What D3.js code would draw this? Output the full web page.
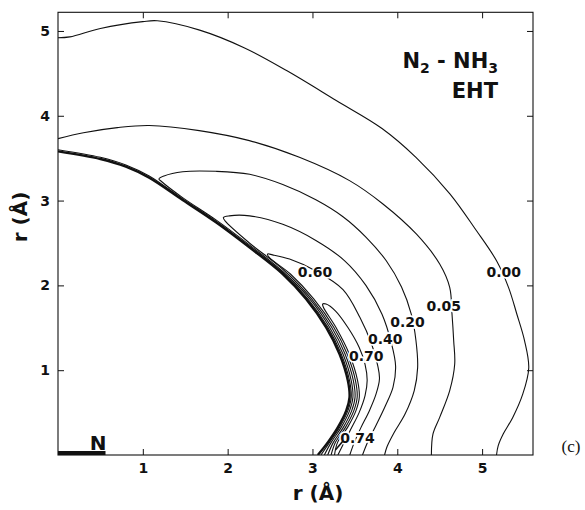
<!DOCTYPE html>
<html>
<head>
<meta charset="utf-8">
<script src="https://cdn.jsdelivr.net/npm/d3@7"></script>
<style>
  html, body { margin: 0; padding: 0; background: #fff; }
  svg { display: block; }
</style>
</head>
<body>
<script>
// ---------- data ----------
const xTicks = [1, 2, 3, 4, 5];
const yTicks = [1, 2, 3, 4, 5];

const contour000 = [[0,4.92],[0.14,4.93],[0.5,5.03],[1.0,5.11],[1.17,5.12],[1.67,5.01],[2.2,4.80],[2.7,4.53],[3.28,4.18],[3.82,3.85],[4.22,3.51],[4.62,3.08],[4.93,2.65],[5.17,2.29],[5.31,1.98],[5.41,1.66],[5.50,1.35],[5.55,1.03],[5.48,0.72],[5.36,0.44],[5.25,0.25],[5.19,0.11],[5.17,0]];
const contour005 = [[0,3.73],[0.3,3.80],[0.7,3.86],[1.075,3.885],[1.665,3.825],[2.256,3.707],[2.846,3.51],[3.437,3.235],[3.831,2.96],[4.224,2.606],[4.50,2.252],[4.618,1.977],[4.645,1.663],[4.665,1.348],[4.677,1.073],[4.618,0.759],[4.50,0.444],[4.421,0.248],[4.402,0]];
const contour020 = [[3.85,0],[3.88,0.10],[3.96,0.26],[4.09,0.48],[4.20,0.76],[4.24,1.03],[4.22,1.35],[4.165,1.66],[4.05,1.98],[3.87,2.29],[3.63,2.57],[3.36,2.81],[3.04,3.01],[2.65,3.19],[2.26,3.31],[1.86,3.345],[1.47,3.34],[1.25,3.29],[1.19,3.255],[1.22,3.225],[1.469,3.035],[1.862,2.772],[2.256,2.478],[2.65,2.164],[2.965,1.845],[3.20,1.51],[3.36,1.19],[3.457,0.877],[3.477,0.68],[3.438,0.523],[3.339,0.326],[3.221,0.149],[3.14,0]];
const contour040 = [[3.59,0],[3.65,0.15],[3.75,0.35],[3.86,0.58],[3.95,0.80],[3.98,1.05],[3.93,1.32],[3.82,1.66],[3.63,2.00],[3.38,2.29],[3.04,2.53],[2.65,2.72],[2.26,2.82],[2.02,2.82],[1.95,2.80],[1.97,2.76],[2.256,2.50],[2.65,2.19],[2.99,1.84],[3.226,1.506],[3.384,1.191],[3.482,0.877],[3.502,0.68],[3.463,0.523],[3.364,0.326],[3.246,0.149],[3.18,0]];
const contour060 = [[3.44,0],[3.49,0.14],[3.57,0.32],[3.67,0.52],[3.75,0.72],[3.79,0.90],[3.77,1.05],[3.70,1.30],[3.56,1.62],[3.36,1.95],[3.04,2.17],[2.73,2.31],[2.53,2.36],[2.47,2.37],[2.49,2.33],[2.74,2.134],[3.015,1.84],[3.251,1.506],[3.409,1.191],[3.507,0.877],[3.527,0.68],[3.488,0.523],[3.389,0.326],[3.271,0.149],[3.22,0]];
const contour070 = [[3.30,0],[3.36,0.12],[3.45,0.30],[3.55,0.50],[3.62,0.70],[3.645,0.88],[3.62,1.07],[3.55,1.27],[3.42,1.50],[3.27,1.70],[3.16,1.78],[3.12,1.78],[3.13,1.74],[3.276,1.506],[3.434,1.191],[3.532,0.877],[3.552,0.68],[3.513,0.523],[3.414,0.326],[3.296,0.149],[3.26,0]];
const wallInner = [[0,3.58],[0.5,3.49],[0.8,3.40],[1.075,3.27],[1.469,3.007],[1.862,2.744],[2.256,2.449],[2.65,2.134],[2.925,1.84],[3.161,1.506],[3.319,1.191],[3.417,0.877],[3.437,0.68],[3.398,0.523],[3.299,0.326],[3.181,0.149],[3.063,0]];
const wallOuter = [[0,3.60],[0.5,3.51],[0.8,3.42],[1.075,3.29],[1.469,3.02],[1.862,2.758],[2.256,2.463],[2.65,2.149],[2.945,1.842],[3.18,1.508],[3.339,1.191],[3.437,0.877],[3.457,0.68],[3.418,0.523],[3.319,0.326],[3.201,0.149],[3.10,0]];

const levelLabels = ["0.00", "0.05", "0.20", "0.40", "0.60", "0.70", "0.74"];
const labelX = [5.256, 4.547, 4.12, 3.858, 3.03, 3.634, 3.53];
const labelY = [2.154, 1.761, 1.565, 1.368, 2.16, 1.171, 0.20];
const leader074 = [[3.36, 0.165], [3.27, 0.06]];
const bondN = [[0, 0], [0.56, 0]];

// ---------- layout ----------
const W = 585, H = 510;
const L = 58, R = 533, T = 12.3, B = 455;
const FONT = "DejaVu Sans, sans-serif";
const x = d3.scaleLinear().domain([0, 5.6]).range([L, R]);
const y = d3.scaleLinear().domain([0, 5.22]).range([B, T]);

const svg = d3.select("body").append("svg").attr("width", W).attr("height", H);

svg.append("defs").append("clipPath").attr("id", "plotclip")
  .append("rect").attr("x", L).attr("y", T).attr("width", R - L).attr("height", B - T);

const line = d3.line().x(d => x(d[0])).y(d => y(d[1])).curve(d3.curveCatmullRom.alpha(0.5));

const g = svg.append("g").attr("clip-path", "url(#plotclip)");

const contours = [contour000, contour005, contour020, contour040, contour060, contour070, wallOuter];
g.selectAll("path.c").data(contours).join("path").attr("class", "c")
  .attr("d", line).attr("fill", "none").attr("stroke", "#111").attr("stroke-width", 1.1)
  .attr("stroke-linejoin", "round");
g.append("path").datum(wallInner).attr("d", line).attr("fill", "none")
  .attr("stroke", "#111").attr("stroke-width", 2.4).attr("stroke-linejoin", "round");

// contour labels
g.selectAll("text.lab").data(levelLabels).join("text").attr("class", "lab")
  .attr("x", (d, i) => x(labelX[i])).attr("y", (d, i) => y(labelY[i]))
  .attr("dy", "0.36em").attr("text-anchor", "middle")
  .attr("font-family", FONT).attr("font-weight", "bold").attr("font-size", 14)
  .attr("fill", "#111")
  .attr("stroke", "#fff").attr("stroke-width", 3.5).attr("paint-order", "stroke")
  .text(d => d);
g.append("path").datum(leader074).attr("d", d3.line().x(d => x(d[0])).y(d => y(d[1])))
  .attr("stroke", "#111").attr("stroke-width", 1.6);

// axes (ticks inward)
const ax = svg.append("g");
ax.append("g").attr("transform", `translate(0,${B})`)
  .call(d3.axisBottom(x).tickValues(xTicks).tickSize(-6).tickSizeOuter(0).tickPadding(8).tickFormat(d3.format("d")))
  .call(s => s.select(".domain").remove());
ax.append("g").attr("transform", `translate(0,${T})`)
  .call(d3.axisTop(x).tickValues(xTicks).tickSize(-6).tickSizeOuter(0).tickFormat(""))
  .call(s => s.select(".domain").remove());
ax.append("g").attr("transform", `translate(${L},0)`)
  .call(d3.axisLeft(y).tickValues(yTicks).tickSize(-6).tickSizeOuter(0).tickPadding(8).tickFormat(d3.format("d")))
  .call(s => s.select(".domain").remove());
ax.append("g").attr("transform", `translate(${R},0)`)
  .call(d3.axisRight(y).tickValues(yTicks).tickSize(-6).tickSizeOuter(0).tickFormat(""))
  .call(s => s.select(".domain").remove());
ax.selectAll(".tick line").attr("stroke", "#111").attr("stroke-width", 1);
ax.selectAll(".tick text").attr("font-size", 14).attr("font-family", FONT)
  .attr("font-weight", "bold").attr("fill", "#111");

svg.append("rect").attr("x", L).attr("y", T).attr("width", R - L).attr("height", B - T)
  .attr("fill", "none").attr("stroke", "#111").attr("stroke-width", 1.1);

// N2 bond bar and N label
svg.append("path").datum(bondN).attr("d", d3.line().x(d => x(d[0])).y(d => y(d[1]) - 2))
  .attr("stroke", "#111").attr("stroke-width", 4);

function boldText(sel, size) {
  return sel.attr("font-family", FONT).attr("font-weight", "bold").attr("font-size", size).attr("fill", "#111");
}
boldText(svg.append("text"), 20).attr("x", x(bondN[1][0]) + 1).attr("y", B - 5)
  .attr("text-anchor", "end").text("N");

// axis titles
boldText(svg.append("text"), 20).attr("x", 318).attr("y", 500).attr("text-anchor", "middle").text("r (Å)");
boldText(svg.append("text"), 20).attr("transform", "translate(27,217) rotate(-90)")
  .attr("text-anchor", "middle").text("r (Å)");

// title
const t1 = boldText(svg.append("text"), 21).attr("x", 498).attr("y", 68).attr("text-anchor", "end");
t1.append("tspan").text("N");
t1.append("tspan").attr("font-size", 14).attr("dy", 5).text("2");
t1.append("tspan").attr("dy", -5).text(" - NH");
t1.append("tspan").attr("font-size", 14).attr("dy", 5).text("3");
boldText(svg.append("text"), 21).attr("x", 498).attr("y", 98).attr("text-anchor", "end").text("EHT");

// panel tag
svg.append("text").attr("x", 571).attr("y", 452).attr("text-anchor", "middle")
  .attr("font-family", "Liberation Serif, serif").attr("font-weight", "normal")
  .attr("font-size", 17).attr("fill", "#111").text("(c)");
</script>
</body>
</html>
